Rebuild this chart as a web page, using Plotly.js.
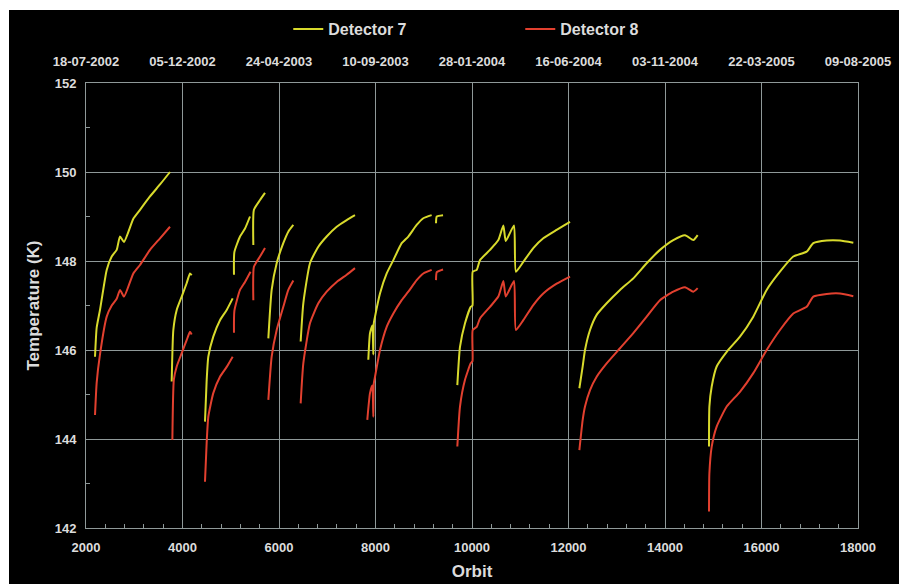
<!DOCTYPE html>
<html><head><meta charset="utf-8">
<script src="https://cdn.plot.ly/plotly-3.0.1.min.js"></script>
<style>html,body{margin:0;background:#fff;}#chart{position:absolute;left:9px;top:10px;width:890px;height:574px;}</style>
</head><body><div id="chart"></div>
<script>
const orbit7 = [
2187,2221,2290,2429,2533,2636,2705,2788,2981,3119,3326,3534,3741,null,
3776,3810,3880,3984,4086,4155,4190,null,
4466,4500,4535,4638,4777,4916,5040,null,
5067,5075,5192,5296,5399,null,
5468,5480,5606,5710,null,
5779,5848,5952,6089,6193,6297,null,
6449,6504,6642,6815,6988,7196,7403,7575,null,
7851,7886,7935,7955,7965,7990,8093,8232,8370,8543,8680,8853,8991,9164,null,
9254,9270,9400,null,
9696,9751,9855,9973,10010,10015,10098,10166,10373,10546,10650,10700,10870,10910,11063,11270,11477,11754,12031,null,
12225,12294,12342,12446,12584,12791,13067,13343,13620,13896,14172,14415,14587,14677,null,
14912,14920,14968,15071,15279,15554,15830,16107,16383,16659,16936,17074,17350,17627,17903];
const temp7 = [
145.85,146.5,146.9,147.8,148.1,148.25,148.55,148.43,148.95,149.15,149.45,149.72,150.0,null,
145.29,146.45,146.9,147.2,147.5,147.72,147.68,null,
144.39,145.3,145.85,146.3,146.67,146.9,147.16,null,
147.69,148.2,148.55,148.73,149.0,null,
148.36,149.15,149.37,149.53,null,
146.26,147.35,147.95,148.4,148.66,148.81,null,
146.19,147.05,147.95,148.32,148.55,148.77,148.92,149.03,null,
145.78,146.38,146.55,145.9,146.6,146.75,147.27,147.72,148.02,148.4,148.55,148.81,148.96,149.03,null,
148.85,149.0,149.03,null,
145.21,146.07,146.6,146.97,147.0,147.76,147.8,148.02,148.25,148.47,148.8,148.45,148.8,147.76,147.98,148.29,148.51,148.7,148.88,null,
145.14,145.63,146.0,146.45,146.79,147.05,147.35,147.61,147.95,148.25,148.47,148.58,148.47,148.58,null,
143.83,144.73,145.18,145.63,145.96,146.3,146.75,147.35,147.76,148.1,148.21,148.4,148.46,148.46,148.41];
const orbit8 = [
2187,2221,2290,2429,2533,2636,2705,2788,2981,3119,3326,3534,3741,null,
3790,3820,3880,3984,4086,4155,4190,null,
4466,4500,4535,4638,4777,4916,5040,null,
5067,5075,5192,5296,5410,null,
5468,5480,5606,5710,null,
5779,5848,5952,6089,6193,6297,null,
6449,6504,6642,6815,6988,7196,7403,7575,null,
7830,7886,7935,7955,7965,7990,8093,8232,8370,8543,8680,8853,8991,9164,null,
9254,9270,9400,null,
9696,9751,9855,9973,10010,10015,10098,10166,10373,10546,10650,10700,10870,10910,11063,11270,11477,11754,12031,null,
12225,12294,12342,12446,12584,12791,13067,13343,13620,13896,14172,14415,14587,14677,null,
14912,14920,14968,15071,15279,15554,15830,16107,16383,16659,16936,17074,17350,17627,17903];
const temp8 = [
144.54,145.26,145.9,146.75,147.0,147.15,147.35,147.2,147.72,147.91,148.25,148.51,148.77,null,
143.98,145.33,145.63,145.93,146.22,146.41,146.35,null,
143.04,143.9,144.5,145.03,145.4,145.62,145.85,null,
146.39,146.88,147.35,147.53,147.76,null,
147.12,147.87,148.1,148.29,null,
144.88,145.85,146.45,146.97,147.35,147.56,null,
144.8,145.7,146.6,147.05,147.31,147.53,147.69,147.84,null,
144.43,145.03,145.2,144.5,145.25,145.4,146.0,146.52,146.82,147.12,147.31,147.57,147.72,147.8,null,
147.57,147.75,147.81,null,
143.83,144.73,145.33,145.7,145.75,146.45,146.52,146.71,146.97,147.2,147.55,147.2,147.55,146.45,146.67,147.01,147.27,147.49,147.65,null,
143.75,144.43,144.73,145.1,145.4,145.7,146.04,146.38,146.75,147.12,147.31,147.41,147.31,147.39,null,
142.37,143.23,143.83,144.28,144.73,145.06,145.48,146.0,146.45,146.82,146.97,147.2,147.26,147.27,147.21];
const dateTickOrbits = [2000,4000,6000,8000,10000,12000,14000,16000,18000];
const dateTickLabels = ['18-07-2002','05-12-2002','24-04-2003','10-09-2003','28-01-2004','16-06-2004','03-11-2004','22-03-2005','09-08-2005'];
const seriesNames = ['Detector 7','Detector 8'];

const FONT = 'Liberation Sans, Arial, sans-serif';
const TXT = '#dcdcdc';
const GRID = '#8f9999';
const tickFont = {family: FONT, size: 13, color: TXT, weight: 'bold'};

const traces = [
  {x: orbit7, y: temp7, name: seriesNames[0], type: 'scatter', mode: 'lines',
   line: {color: '#d8da2c', width: 2, shape: 'spline', smoothing: 0.5}, connectgaps: false},
  {x: orbit8, y: temp8, name: seriesNames[1], type: 'scatter', mode: 'lines',
   line: {color: '#e2402f', width: 2, shape: 'spline', smoothing: 0.5}, connectgaps: false},
  {x: dateTickOrbits, y: dateTickOrbits.map(() => null), xaxis: 'x2', yaxis: 'y',
   type: 'scatter', mode: 'lines', showlegend: false, hoverinfo: 'skip'}
];

const layout = {
  width: 890, height: 574,
  paper_bgcolor: '#000', plot_bgcolor: '#000',
  margin: {l: 77, r: 41, t: 73, b: 56, autoexpand: false},
  showlegend: true,
  legend: {orientation: 'h', x: 0.262, xanchor: 'left', y: 1.121, yanchor: 'middle',
    font: {family: FONT, size: 16, color: TXT, weight: 'bold'},
    bgcolor: 'rgba(0,0,0,0)', entrywidth: 187, entrywidthmode: 'pixels'},
  xaxis: {range: [2000, 18000], tick0: 2000, dtick: 2000, tickformat: 'd', automargin: false,
    showgrid: true, gridcolor: GRID, gridwidth: 1,
    showline: true, linecolor: GRID, linewidth: 1, mirror: true, zeroline: false, ticks: '',
    tickfont: tickFont, ticklabelstandoff: 7,
    minor: {tick0: 2000, dtick: 400, ticks: 'inside', ticklen: 4, tickcolor: GRID, showgrid: false},
    title: {text: 'Orbit', font: {family: FONT, size: 17, color: TXT, weight: 'bold'}, standoff: 11}},
  xaxis2: {overlaying: 'x', side: 'top', range: [2000, 18000], tickmode: 'array', automargin: false,
    tickvals: dateTickOrbits, ticktext: dateTickLabels, showgrid: false, showline: false,
    zeroline: false, ticks: '', tickfont: tickFont, ticklabelstandoff: 13},
  yaxis: {range: [142, 152], tick0: 142, dtick: 2, automargin: false,
    showgrid: true, gridcolor: GRID, gridwidth: 1,
    showline: true, linecolor: GRID, linewidth: 1, mirror: true, zeroline: false, ticks: '',
    tickfont: tickFont, ticklabelstandoff: 6,
    minor: {tick0: 142, dtick: 1, ticks: 'inside', ticklen: 4, tickcolor: GRID, showgrid: false},
    title: {text: 'Temperature (K)', font: {family: FONT, size: 17, color: TXT, weight: 'bold'}, standoff: 10}}
};

Plotly.newPlot('chart', traces, layout, {displayModeBar: false, staticPlot: true});
</script></body></html>
